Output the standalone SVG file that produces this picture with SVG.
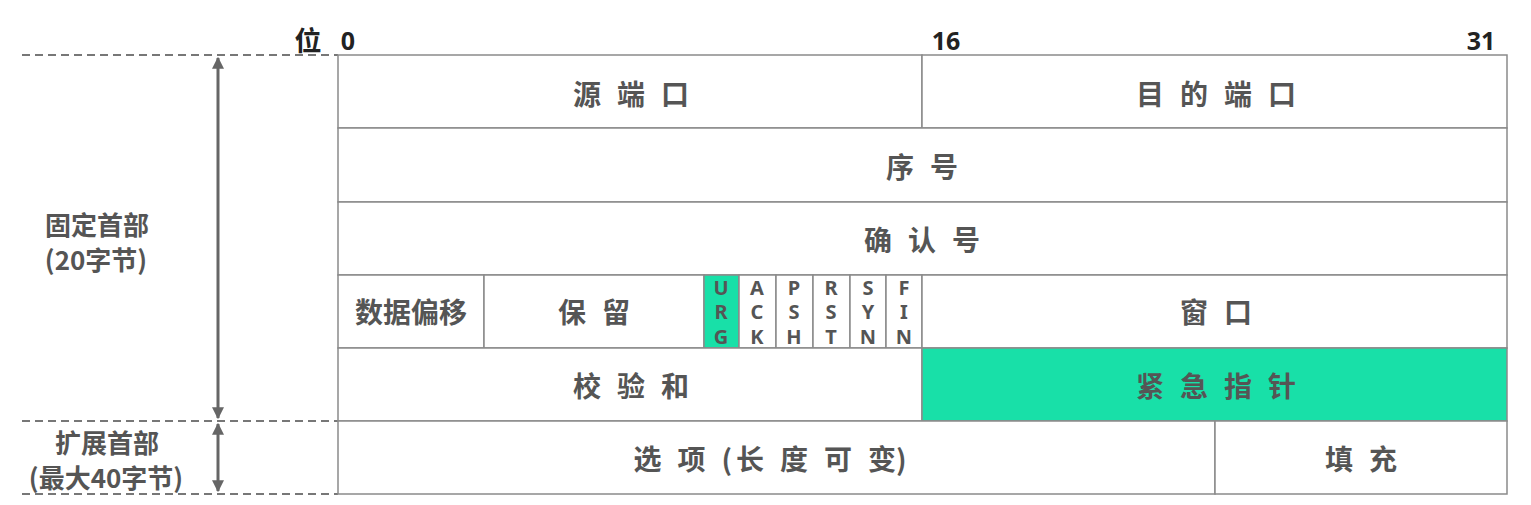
<svg xmlns="http://www.w3.org/2000/svg" width="1531" height="505" viewBox="0 0 1531 505">
<style>
.cell{fill:#fff;stroke:#8a8a8a;stroke-width:1.5}
.g{fill:#18e0a8}
.t{font-family:"Noto Sans CJK SC","Noto Sans",sans-serif;font-weight:bold;fill:#555;font-size:28px;text-anchor:middle;dominant-baseline:central;letter-spacing:16px}
.f{font-family:"Noto Sans","Noto Sans CJK SC",sans-serif;font-weight:bold;fill:#555;font-size:20px;text-anchor:middle;dominant-baseline:central}
.h{font-family:"Noto Sans","Noto Sans CJK SC",sans-serif;font-weight:bold;fill:#222;font-size:25px;text-anchor:middle;dominant-baseline:central}
.l{font-family:"Noto Sans CJK SC","Noto Sans",sans-serif;font-weight:bold;fill:#555;font-size:26px;text-anchor:middle;dominant-baseline:central}
.d{stroke:#777;stroke-width:2;stroke-dasharray:8,5;fill:none}
.a{stroke:#666;stroke-width:3;fill:none}
</style>
<defs>
<marker id="ah" viewBox="0 0 10 10" refX="9" refY="5" markerWidth="4" markerHeight="4" orient="auto-start-reverse" markerUnits="strokeWidth">
<path d="M0,0 L10,5 L0,10 z" fill="#666"/>
</marker>
</defs>
<g id="header">
<text class="h" x="308" y="40" style="font-size:27px">位</text>
<text class="h" x="348" y="40">0</text>
<text class="h" x="946" y="40">16</text>
<text class="h" x="1481" y="40">31</text>
</g>
<g id="connectors">
<line class="d" x1="22" y1="55" x2="338" y2="55"/>
<line class="d" x1="22" y1="421" x2="338" y2="421"/>
<line class="d" x1="22" y1="494" x2="338" y2="494"/>
<line class="a" x1="218" y1="58" x2="218" y2="418" marker-start="url(#ah)" marker-end="url(#ah)"/>
<line class="a" x1="218" y1="424" x2="218" y2="491" marker-start="url(#ah)" marker-end="url(#ah)"/>
</g>
<g id="label-fixed">
<text class="l" x="97" y="223">固定首部</text>
<text class="l" x="96" y="258">(20字节)</text>
</g>
<g id="label-ext">
<text class="l" x="107" y="441">扩展首部</text>
<text class="l" x="106" y="476">(最大40字节)</text>
</g>
<g id="src-port"><rect class="cell" x="338" y="55" width="584" height="73"/><text class="t" x="639" y="93">源端口</text></g>
<g id="dst-port"><rect class="cell" x="922" y="55" width="585" height="73"/><text class="t" x="1224" y="93">目的端口</text></g>
<g id="seq"><rect class="cell" x="338" y="128" width="1169" height="74"/><text class="t" x="930" y="166">序号</text></g>
<g id="ack-num"><rect class="cell" x="338" y="202" width="1169" height="73"/><text class="t" x="930" y="239">确认号</text></g>
<g id="data-offset"><rect class="cell" x="338" y="275" width="146" height="73"/><text class="t" x="411" y="311" style="letter-spacing:0">数据偏移</text></g>
<g id="reserved"><rect class="cell" x="484" y="275" width="220" height="73"/><text class="t" x="602" y="311">保留</text></g>
<g id="urg"><rect class="cell g" x="704" y="275" width="35" height="73"/><text class="f" x="721" y="287">U</text><text class="f" x="721" y="311">R</text><text class="f" x="721" y="336">G</text></g>
<g id="ack"><rect class="cell" x="739" y="275" width="37" height="73"/><text class="f" x="757" y="287">A</text><text class="f" x="757" y="311">C</text><text class="f" x="757" y="336">K</text></g>
<g id="psh"><rect class="cell" x="776" y="275" width="37" height="73"/><text class="f" x="794" y="287">P</text><text class="f" x="794" y="311">S</text><text class="f" x="794" y="336">H</text></g>
<g id="rst"><rect class="cell" x="813" y="275" width="37" height="73"/><text class="f" x="831" y="287">R</text><text class="f" x="831" y="311">S</text><text class="f" x="831" y="336">T</text></g>
<g id="syn"><rect class="cell" x="850" y="275" width="36" height="73"/><text class="f" x="868" y="287">S</text><text class="f" x="868" y="311">Y</text><text class="f" x="868" y="336">N</text></g>
<g id="fin"><rect class="cell" x="886" y="275" width="36" height="73"/><text class="f" x="904" y="287">F</text><text class="f" x="904" y="311">I</text><text class="f" x="904" y="336">N</text></g>
<g id="window"><rect class="cell" x="922" y="275" width="585" height="73"/><text class="t" x="1224" y="311">窗口</text></g>
<g id="checksum"><rect class="cell" x="338" y="348" width="584" height="73"/><text class="t" x="639" y="385">校验和</text></g>
<g id="urgent-ptr"><rect class="cell g" x="922" y="348" width="585" height="73"/><text class="t" x="1224" y="385">紧急指针</text></g>
<g id="options"><rect class="cell" x="338" y="421" width="877" height="73"/><text class="t" x="770" y="458">选项<tspan style="letter-spacing:4px">(</tspan>长度可<tspan style="letter-spacing:0">变)</tspan></text></g>
<g id="padding"><rect class="cell" x="1215" y="421" width="292" height="73"/><text class="t" x="1369" y="458">填充</text></g>
</svg>
